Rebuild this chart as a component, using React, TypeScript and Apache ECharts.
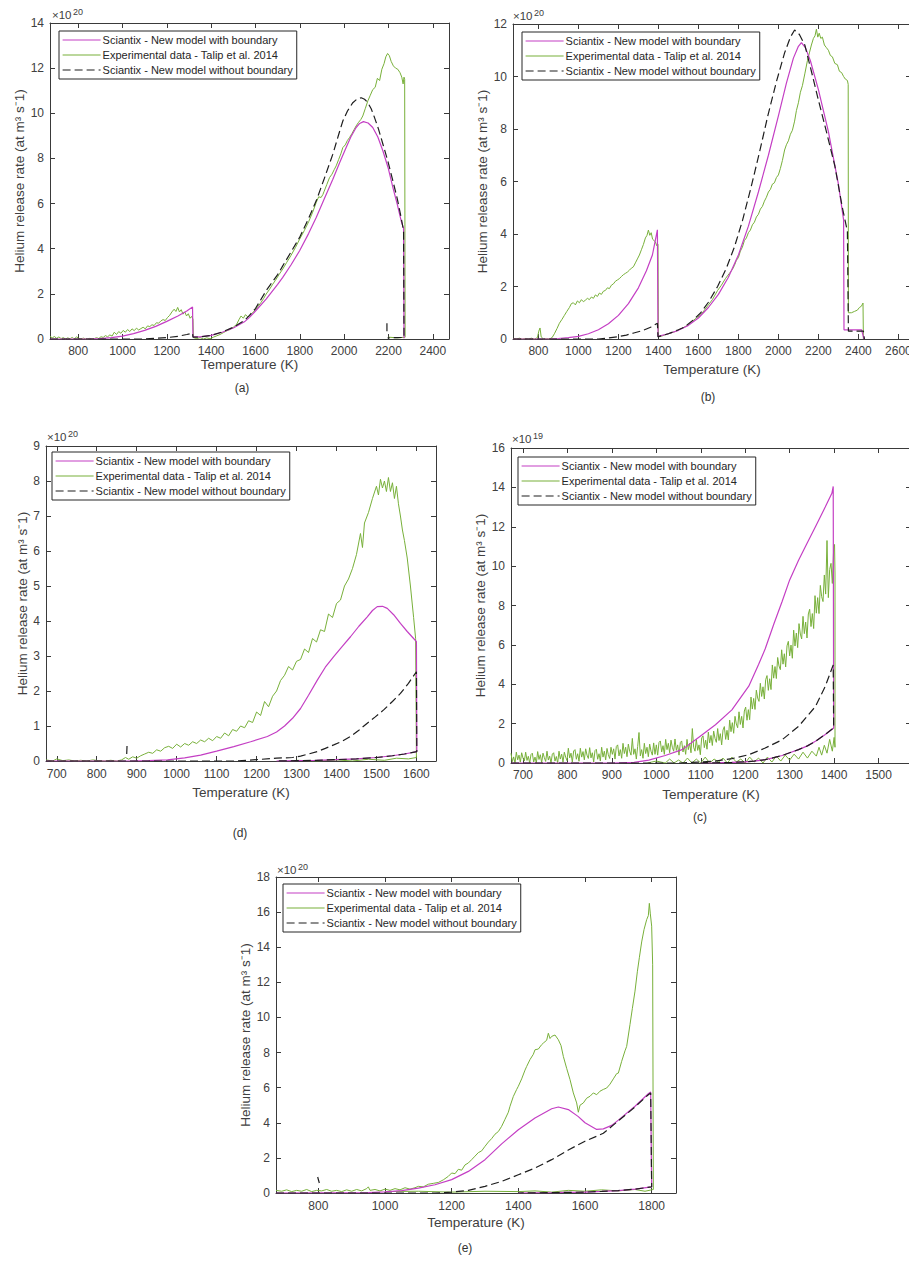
import React, { useEffect, useRef } from "react";
import * as echarts from "echarts";

type Pt = [number, number | string];

// ---------- shared texts ----------
const SERIES_NAMES = [
  "Sciantix - New model with boundary",
  "Experimental data - Talip et al. 2014",
  "Sciantix - New model without boundary",
];
const X_TITLE = "Temperature (K)";
const Y_TITLE = "Helium release rate (at m³ s⁻1)";

// ---------- panel (a) ----------
const A_X_TICKS = [800, 1000, 1200, 1400, 1600, 1800, 2000, 2200, 2400];
const A_WITH: Pt[] = [
  [673, 0], [850, 0], [900, 0.02], [950, 0.06], [1000, 0.13], [1050, 0.24], [1100, 0.38], [1150, 0.56],
  [1200, 0.78], [1250, 1.02], [1290, 1.24], [1316, 1.42], [1318, 0.1], [1350, 0.09], [1400, 0.16],
  [1450, 0.3], [1500, 0.49], [1550, 0.76], [1573, 0.96], [1600, 1.24], [1648, 1.77], [1700, 2.42],
  [1723, 2.73], [1760, 3.28], [1799, 3.91], [1840, 4.68], [1874, 5.38], [1910, 6.2], [1949, 7.08],
  [1980, 7.82], [2009, 8.48], [2030, 8.95], [2054, 9.37], [2070, 9.55], [2087, 9.63], [2108, 9.57],
  [2129, 9.37], [2152, 8.95], [2175, 8.33], [2198, 7.6], [2220, 6.71], [2240, 5.95], [2257, 5.24],
  [2268, 4.9], [2270, 0.03],
];
const A_WITHOUT: Pt[] = [
  [673, 0], [1100, 0], [1150, 0.03], [1200, 0.06], [1250, 0.12], [1290, 0.2], [1316, 0.26], [1318, 0.08],
  [1350, 0.09], [1400, 0.16], [1450, 0.31], [1500, 0.52], [1550, 0.82], [1573, 1.05], [1600, 1.35],
  [1648, 2.14], [1700, 2.85], [1723, 3.24], [1760, 3.85], [1799, 4.5], [1840, 5.35], [1874, 6.12],
  [1910, 7.1], [1949, 8.19], [1975, 9.05], [1994, 9.66], [2015, 10.1], [2039, 10.47], [2058, 10.63],
  [2077, 10.69], [2092, 10.62], [2107, 10.47], [2122, 10.2], [2137, 9.81], [2155, 9.3], [2175, 8.63],
  [2198, 7.85], [2220, 7.0], [2240, 6.2], [2257, 5.38], [2268, 4.79], [2270, 0.07], [2230, 0.06],
  [2196, 0.05], [2193, "-"], [2193, 0.34], [2193, 0.7],
];
const A_EXP: Pt[] = [
  [673, 0.12], [683, 0.05], [693, 0.11], [703, 0.03], [713, 0.09], [723, 0.02], [733, 0.06], [743, 0.0],
  [753, 0.05], [763, 0.01], [773, 0.07], [783, 0.0], [793, 0.1], [803, 0.02], [813, 0.0], [823, 0.04],
  [833, 0.01], [843, 0.0], [853, 0.03], [863, 0.0], [873, 0.02], [883, 0.06], [893, 0.02], [903, 0.1],
  [913, 0.07], [923, 0.15], [933, 0.1], [943, 0.18], [953, 0.13], [963, 0.3], [973, 0.2], [983, 0.33],
  [993, 0.25], [1003, 0.38], [1013, 0.3], [1023, 0.42], [1033, 0.33], [1043, 0.45], [1053, 0.37],
  [1063, 0.48], [1073, 0.4], [1083, 0.46], [1093, 0.52], [1103, 0.45], [1113, 0.58], [1123, 0.55],
  [1133, 0.63], [1143, 0.6], [1153, 0.72], [1163, 0.7], [1173, 0.8], [1183, 0.86], [1193, 0.82],
  [1203, 0.95], [1213, 1.05], [1223, 1.2], [1233, 1.32], [1241, 1.22], [1249, 1.4], [1257, 1.2],
  [1265, 1.3], [1273, 1.1], [1281, 1.2], [1289, 1.02], [1297, 1.12], [1305, 0.92], [1312, 1.0],
  [1318, 0.88], [1320, 0.06], [1335, 0.02], [1350, 0.06], [1365, 0.0], [1380, 0.05], [1395, 0.01],
  [1410, 0.08], [1425, 0.14], [1440, 0.2], [1455, 0.28], [1470, 0.36], [1485, 0.42], [1500, 0.52],
  [1515, 0.65], [1525, 0.85], [1535, 1.02], [1545, 0.92], [1555, 1.08], [1565, 0.98], [1573, 1.03],
  [1586, 1.15], [1600, 1.3], [1612, 1.45], [1625, 1.62], [1637, 1.8], [1648, 1.99], [1662, 2.18],
  [1676, 2.4], [1690, 2.6], [1706, 2.85], [1723, 3.1], [1740, 3.38], [1760, 3.7], [1780, 4.05],
  [1799, 4.42], [1820, 4.8], [1840, 5.2], [1858, 5.62], [1874, 6.05], [1885, 6.3], [1896, 6.27],
  [1904, 6.4], [1910, 6.55], [1922, 6.85], [1934, 7.15], [1945, 7.3], [1955, 7.5], [1964, 7.67],
  [1975, 7.95], [1985, 8.2], [1994, 8.48], [2005, 8.6], [2015, 8.8], [2024, 8.92], [2035, 9.1],
  [2045, 9.28], [2054, 9.44], [2065, 9.6], [2075, 9.72], [2084, 9.88], [2095, 10.2], [2107, 10.55],
  [2118, 10.8], [2129, 11.05], [2140, 11.15], [2150, 11.55], [2160, 11.45], [2170, 11.95], [2180, 12.2],
  [2188, 12.5], [2196, 12.65], [2204, 12.55], [2212, 12.3], [2222, 12.1], [2232, 12.0], [2242, 11.95],
  [2252, 11.8], [2260, 11.6], [2266, 11.3], [2270, 11.6], [2273, 11.5], [2275, 0.08], [2240, 0.05],
  [2200, 0.08],
];

// ---------- panel (b) ----------
const B_X_TICKS = [800, 1000, 1200, 1400, 1600, 1800, 2000, 2200, 2400, 2600];
const B_WITH: Pt[] = [
  [673, 0], [850, 0], [900, 0.02], [950, 0.05], [1000, 0.1], [1050, 0.2], [1100, 0.35], [1150, 0.58],
  [1200, 0.9], [1250, 1.35], [1300, 1.95], [1340, 2.6], [1370, 3.2], [1395, 4.16], [1398, 0.1],
  [1450, 0.2], [1500, 0.33], [1550, 0.52], [1600, 0.8], [1650, 1.2], [1700, 1.7], [1750, 2.35],
  [1800, 3.2], [1850, 4.3], [1900, 5.6], [1950, 7.0], [2000, 8.5], [2040, 9.75], [2075, 10.7],
  [2100, 11.15], [2115, 11.29], [2135, 11.1], [2160, 10.6], [2200, 9.5], [2250, 7.9], [2300, 5.9],
  [2326, 4.54], [2328, 0.35], [2416, 0.35], [2428, 0.0],
];
const B_WITHOUT: Pt[] = [
  [673, 0], [1100, 0], [1150, 0.04], [1194, 0.08], [1240, 0.15], [1277, 0.23], [1320, 0.32], [1361, 0.45],
  [1395, 0.6], [1398, 0.08], [1450, 0.2], [1500, 0.35], [1529, 0.45], [1570, 0.7], [1612, 1.0],
  [1650, 1.4], [1696, 2.0], [1740, 2.7], [1780, 3.5], [1820, 4.5], [1864, 5.8], [1905, 7.1], [1947, 8.5],
  [1990, 9.8], [2031, 10.9], [2060, 11.5], [2081, 11.77], [2105, 11.6], [2132, 11.2], [2165, 10.2],
  [2200, 9.1], [2240, 7.9], [2282, 6.6], [2320, 5.0], [2345, 4.1], [2350, 0.3], [2425, 0.3], [2430, 0.0],
];
const B_EXP: Pt[] = [
  [673, 0.02], [690, 0.0], [705, 0.03], [720, 0.0], [735, 0.02], [750, 0.0], [765, 0.03], [780, 0.0],
  [795, 0.05], [802, 0.3], [808, 0.42], [814, 0.08], [825, 0.0], [840, 0.02], [855, 0.0], [868, 0.05],
  [880, 0.2], [893, 0.4], [905, 0.6], [918, 0.75], [930, 0.9], [942, 1.05], [955, 1.2], [965, 1.35],
  [975, 1.38], [985, 1.3], [995, 1.45], [1005, 1.38], [1015, 1.5], [1025, 1.42], [1035, 1.48],
  [1045, 1.55], [1055, 1.5], [1065, 1.6], [1075, 1.55], [1085, 1.68], [1095, 1.62], [1105, 1.75],
  [1115, 1.7], [1125, 1.82], [1135, 1.85], [1145, 1.95], [1155, 1.92], [1165, 2.05], [1175, 2.1],
  [1185, 2.2], [1195, 2.25], [1205, 2.3], [1215, 2.38], [1225, 2.45], [1235, 2.5], [1245, 2.55],
  [1255, 2.62], [1265, 2.7], [1275, 2.75], [1285, 2.9], [1295, 3.05], [1305, 3.2], [1315, 3.4],
  [1325, 3.6], [1335, 3.85], [1343, 3.95], [1350, 4.15], [1357, 3.95], [1364, 4.05], [1371, 3.8],
  [1378, 3.75], [1385, 3.7], [1392, 3.55], [1398, 3.6], [1400, 0.1], [1420, 0.12], [1440, 0.18],
  [1462, 0.23], [1490, 0.3], [1510, 0.38], [1529, 0.45], [1550, 0.55], [1570, 0.68], [1590, 0.8],
  [1612, 0.92], [1630, 1.1], [1650, 1.3], [1670, 1.5], [1696, 1.85], [1715, 2.05], [1735, 2.3],
  [1755, 2.5], [1770, 2.65], [1780, 2.8], [1790, 3.0], [1800, 3.1], [1810, 3.35], [1820, 3.5],
  [1830, 3.75], [1840, 3.85], [1850, 4.05], [1860, 4.15], [1870, 4.35], [1880, 4.45], [1890, 4.65],
  [1900, 4.75], [1910, 4.95], [1920, 5.05], [1930, 5.25], [1940, 5.4], [1950, 5.6], [1960, 5.7],
  [1970, 5.9], [1980, 5.95], [1990, 6.15], [2000, 6.25], [2010, 6.5], [2020, 6.8], [2031, 7.2],
  [2040, 7.4], [2050, 7.55], [2060, 7.8], [2070, 7.95], [2081, 8.3], [2090, 8.7], [2100, 9.0],
  [2110, 9.4], [2120, 9.65], [2132, 10.1], [2145, 10.6], [2155, 10.9], [2165, 11.2], [2175, 11.45],
  [2183, 11.55], [2190, 11.8], [2197, 11.5], [2204, 11.65], [2212, 11.45], [2220, 11.5], [2230, 11.2],
  [2240, 11.1], [2250, 11.0], [2260, 10.8], [2270, 10.75], [2282, 10.5], [2295, 10.45], [2305, 10.2],
  [2316, 10.15], [2326, 10.0], [2335, 9.9], [2345, 9.85], [2349, 9.7], [2350, 1.0], [2365, 1.0],
  [2380, 1.05], [2395, 1.1], [2405, 1.2], [2415, 1.25], [2423, 1.37], [2425, 0.0],
];

// ---------- panel (d) ----------
const D_X_TICKS = [700, 800, 900, 1000, 1100, 1200, 1300, 1400, 1500, 1600];
const D_WITH: Pt[] = [
  [673, 0], [880, 0], [930, 0.01], [977, 0.03], [1020, 0.09], [1060, 0.17], [1100, 0.28], [1143, 0.41],
  [1185, 0.55], [1227, 0.7], [1250, 0.83], [1270, 1.0], [1290, 1.22], [1310, 1.5], [1330, 1.88],
  [1352, 2.31], [1372, 2.68], [1393, 2.98], [1415, 3.28], [1435, 3.55], [1456, 3.85], [1477, 4.12],
  [1490, 4.3], [1502, 4.41], [1515, 4.42], [1527, 4.36], [1543, 4.18], [1560, 3.93], [1577, 3.7],
  [1593, 3.5], [1600, 3.41], [1601, 0.27], [1570, 0.2], [1540, 0.15], [1500, 0.1], [1450, 0.06],
  [1400, 0.04], [1350, 0.02], [1300, 0.01], [1250, 0.0],
];
const D_WITHOUT: Pt[] = [
  [673, 0], [1150, 0], [1200, 0.04], [1250, 0.08], [1290, 0.1], [1310, 0.14], [1330, 0.2], [1352, 0.27],
  [1372, 0.36], [1393, 0.46], [1415, 0.57], [1435, 0.7], [1456, 0.88], [1477, 1.08], [1497, 1.26],
  [1518, 1.46], [1540, 1.7], [1560, 1.93], [1580, 2.22], [1600, 2.55], [1601, 0.27], [1570, 0.2],
  [1540, 0.15], [1500, 0.1], [1450, 0.06], [1400, 0.04], [1350, 0.02], [1300, 0.01], [1250, 0.0],
  [875, "-"], [875, 0.2], [876, 0.5],
];
const D_EXP: Pt[] = [
  [673, 0.03], [690, 0.0], [700, 0.06], [715, 0.01], [730, 0.03], [745, 0.0], [760, 0.02], [775, 0.0],
  [790, 0.03], [805, 0.01], [820, 0.0], [835, 0.02], [850, 0.0], [862, 0.03], [872, 0.1], [880, 0.05],
  [890, 0.12], [900, 0.08], [910, 0.15], [920, 0.2], [930, 0.25], [940, 0.22], [950, 0.32], [960, 0.28],
  [970, 0.38], [980, 0.42], [990, 0.36], [1000, 0.48], [1010, 0.4], [1020, 0.5], [1030, 0.45],
  [1040, 0.55], [1050, 0.5], [1060, 0.6], [1070, 0.55], [1080, 0.65], [1090, 0.58], [1100, 0.7],
  [1110, 0.65], [1120, 0.8], [1130, 0.72], [1140, 0.9], [1150, 0.85], [1160, 1.0], [1170, 0.95],
  [1180, 1.15], [1190, 1.1], [1200, 1.4], [1210, 1.3], [1220, 1.7], [1230, 1.55], [1240, 1.85],
  [1250, 2.0], [1260, 2.3], [1270, 2.45], [1280, 2.7], [1290, 2.6], [1300, 2.85], [1310, 2.9],
  [1320, 3.2], [1330, 3.1], [1340, 3.5], [1350, 3.4], [1360, 3.75], [1370, 3.7], [1380, 4.2],
  [1390, 4.1], [1400, 4.5], [1410, 4.6], [1420, 5.0], [1430, 5.2], [1440, 5.5], [1450, 5.9],
  [1460, 6.5], [1465, 6.1], [1470, 6.8], [1480, 7.1], [1490, 7.5], [1500, 7.85], [1505, 7.6],
  [1510, 8.05], [1515, 7.8], [1520, 8.0], [1525, 7.7], [1530, 8.1], [1535, 7.7], [1540, 7.95],
  [1545, 7.5], [1550, 7.85], [1555, 7.35], [1560, 7.0], [1565, 6.6], [1570, 6.3], [1577, 5.8],
  [1585, 5.0], [1593, 4.1], [1598, 3.5], [1600, 0.1], [1580, 0.06], [1550, 0.08], [1520, 0.02],
  [1480, 0.05], [1440, 0.0], [1400, 0.03], [1350, 0.0], [1300, 0.02],
];

// ---------- panel (c) ----------
const C_X_TICKS = [700, 800, 900, 1000, 1100, 1200, 1300, 1400, 1500];
const C_WITH: Pt[] = [
  [673, 0], [900, 0], [950, 0.03], [983, 0.15], [1020, 0.38], [1058, 0.68], [1095, 1.3], [1133, 1.94],
  [1170, 2.7], [1208, 3.9], [1230, 5.0], [1245, 5.8], [1265, 7.1], [1283, 8.2], [1300, 9.3],
  [1320, 10.3], [1340, 11.2], [1358, 12.0], [1380, 13.0], [1395, 13.7], [1398, 14.05], [1399, 1.78],
  [1380, 1.45], [1358, 1.1], [1340, 0.87], [1320, 0.68], [1300, 0.52], [1283, 0.38], [1260, 0.25],
  [1245, 0.17], [1220, 0.1], [1200, 0.06], [1170, 0.03], [1133, 0.01], [1100, 0],
];
const C_WITHOUT: Pt[] = [
  [673, 0], [1050, 0], [1100, 0.05], [1133, 0.1], [1170, 0.22], [1208, 0.42], [1245, 0.76], [1283, 1.18],
  [1320, 1.86], [1358, 2.87], [1380, 3.89], [1398, 4.98], [1399, 1.78], [1380, 1.45], [1358, 1.1],
  [1340, 0.87], [1320, 0.68], [1300, 0.52], [1283, 0.38], [1260, 0.25], [1245, 0.17], [1220, 0.1],
  [1200, 0.06], [1170, 0.03], [1133, 0.01], [1100, 0],
];
const C_EXP: Pt[] = [
  [673, 0.49], [676, 0.07], [679, 0.31], [682, 0.0], [685, 0.55], [688, 0.16], [691, 0.4], [694, 0.04],
  [697, 0.52], [700, 0.25], [703, 0.1], [706, 0.55], [709, 0.13], [712, 0.34], [715, 0.0], [718, 0.43],
  [721, 0.5], [724, 0.05], [727, 0.3], [730, 0.0], [733, 0.58], [736, 0.18], [739, 0.42], [742, 0.02],
  [745, 0.5], [748, 0.27], [751, 0.08], [754, 0.6], [757, 0.15], [760, 0.35], [763, 0.0], [766, 0.45],
  [769, 0.52], [772, 0.1], [775, 0.33], [778, 0.0], [781, 0.6], [784, 0.2], [787, 0.45], [790, 0.05],
  [793, 0.55], [796, 0.3], [799, 0.12], [802, 0.75], [805, 0.26], [808, 0.5], [811, 0.05], [814, 0.61],
  [817, 0.68], [820, 0.19], [823, 0.47], [826, 0.09], [829, 0.75], [832, 0.3], [835, 0.58], [838, 0.16],
  [841, 0.72], [844, 0.4], [847, 0.23], [850, 0.78], [853, 0.26], [856, 0.52], [859, 0.05], [862, 0.63],
  [865, 0.7], [868, 0.19], [871, 0.47], [874, 0.1], [877, 0.8], [880, 0.3], [883, 0.6], [886, 0.16],
  [889, 0.74], [892, 0.42], [895, 0.23], [898, 0.8], [901, 0.44], [904, 0.72], [907, 0.2], [910, 0.84],
  [913, 0.92], [916, 0.36], [919, 0.68], [922, 0.24], [925, 1.0], [928, 0.48], [931, 0.8], [934, 0.32],
  [937, 0.96], [940, 0.6], [943, 0.4], [946, 1.25], [949, 0.44], [952, 0.72], [955, 0.2], [958, 0.84],
  [961, 1.55], [964, 0.36], [967, 0.68], [970, 0.24], [973, 1.0], [976, 0.48], [979, 0.8], [982, 0.32],
  [985, 0.96], [988, 0.6], [991, 0.4], [994, 1.02], [997, 0.44], [1000, 0.92], [1003, 0.4], [1006, 1.04],
  [1009, 1.12], [1012, 0.56], [1015, 0.88], [1018, 0.44], [1021, 1.2], [1024, 0.68], [1027, 1.0],
  [1030, 0.52], [1033, 1.16], [1036, 0.8], [1039, 0.6], [1042, 1.22], [1045, 0.64], [1048, 0.92],
  [1051, 0.4], [1054, 1.04], [1057, 1.12], [1060, 0.56], [1063, 0.88], [1066, 0.44], [1069, 1.2],
  [1072, 0.68], [1075, 1.0], [1078, 0.52], [1081, 1.75], [1084, 0.8], [1087, 0.6], [1090, 1.2],
  [1093, 0.64], [1096, 0.92], [1099, 0.42], [1102, 1.27], [1105, 1.38], [1108, 0.78], [1111, 1.16],
  [1114, 0.7], [1117, 1.57], [1120, 1.02], [1123, 1.4], [1126, 0.89], [1129, 1.62], [1132, 1.25],
  [1135, 1.05], [1138, 1.75], [1141, 1.14], [1144, 1.49], [1147, 0.92], [1150, 1.67], [1153, 1.85],
  [1156, 1.2], [1159, 1.66], [1162, 1.17], [1165, 2.18], [1168, 1.59], [1171, 2.05], [1174, 1.51],
  [1177, 2.37], [1180, 1.98], [1183, 1.79], [1186, 2.6], [1189, 1.96], [1192, 2.37], [1195, 1.78],
  [1198, 2.64], [1201, 2.84], [1204, 2.17], [1207, 2.71], [1210, 2.2], [1213, 3.35], [1216, 2.74],
  [1219, 3.28], [1222, 2.72], [1225, 3.7], [1228, 3.3], [1231, 3.13], [1234, 4.05], [1237, 3.38],
  [1240, 3.87], [1243, 3.25], [1246, 4.23], [1249, 4.44], [1252, 3.69], [1255, 4.28], [1258, 3.73],
  [1261, 4.98], [1264, 4.31], [1267, 4.9], [1270, 4.29], [1273, 5.36], [1276, 4.93], [1279, 4.74],
  [1282, 5.75], [1285, 5.02], [1288, 5.55], [1291, 4.88], [1294, 5.95], [1297, 6.18], [1300, 5.44],
  [1303, 5.99], [1306, 5.32], [1309, 6.75], [1312, 5.94], [1315, 6.6], [1318, 5.86], [1321, 7.08],
  [1324, 6.55], [1327, 6.3], [1330, 7.45], [1333, 6.57], [1336, 7.16], [1339, 6.35], [1342, 7.57],
  [1345, 7.81], [1348, 6.93], [1351, 7.59], [1354, 6.83], [1357, 8.5], [1360, 7.61], [1363, 8.4],
  [1366, 7.59], [1369, 9.02], [1372, 8.45], [1375, 8.2], [1378, 9.55], [1381, 8.58], [1384, 11.3],
  [1387, 8.4], [1390, 9.83], [1393, 10.14], [1396, 9.12], [1399, 10.9], [1401, 11.1], [1402, 9.6],
  [1402, 0.8], [1400, 1.3], [1396, 0.6], [1390, 1.2], [1384, 0.5], [1378, 0.9], [1372, 0.4],
  [1366, 0.8], [1360, 0.35], [1350, 0.6], [1340, 0.25], [1330, 0.55], [1320, 0.2], [1310, 0.45],
  [1300, 0.15], [1290, 0.4], [1280, 0.1], [1270, 0.35], [1260, 0.05], [1250, 0.3], [1240, 0.0],
  [1230, 0.25], [1220, 0.05], [1210, 0.3], [1200, 0.0], [1190, 0.2], [1180, 0.05], [1170, 0.3],
  [1160, 0.0], [1150, 0.25], [1140, 0.05], [1130, 0.2], [1120, 0.0], [1110, 0.3], [1100, 0.0],
  [1090, 0.2], [1080, 0.0], [1070, 0.25], [1060, 0.0], [1050, 0.15], [1040, 0.0], [1030, 0.2],
  [1020, 0.0], [1000, 0.1], [980, 0.0],
];

// ---------- panel (e) ----------
const E_X_TICKS = [800, 1000, 1200, 1400, 1600, 1800];
const E_WITH: Pt[] = [
  [673, 0], [950, 0.02], [1000, 0.06], [1050, 0.14], [1100, 0.28], [1150, 0.47], [1200, 0.76],
  [1250, 1.23], [1300, 1.9], [1350, 2.8], [1400, 3.6], [1450, 4.27], [1500, 4.8], [1520, 4.9],
  [1550, 4.75], [1580, 4.35], [1600, 4.0], [1635, 3.62], [1655, 3.65], [1680, 3.85], [1700, 4.15],
  [1750, 4.94], [1790, 5.65], [1797, 5.75], [1800, 0.35], [1750, 0.22], [1700, 0.14], [1650, 0.09],
  [1600, 0.05], [1500, 0.02], [1400, 0.0],
];
const E_WITHOUT: Pt[] = [
  [673, 0], [1150, 0], [1200, 0.05], [1250, 0.15], [1300, 0.38], [1350, 0.66], [1400, 1.04],
  [1450, 1.42], [1500, 1.9], [1550, 2.45], [1600, 2.95], [1655, 3.4], [1690, 3.95], [1750, 4.9],
  [1790, 5.6], [1797, 5.7], [1800, 0.35], [1750, 0.22], [1700, 0.14], [1650, 0.09], [1600, 0.05],
  [1500, 0.02], [1400, 0.0], [800, "-"], [798, 0.91], [803, 0.57],
];
const E_EXP: Pt[] = [
  [673, 0.15], [690, 0.1], [705, 0.18], [720, 0.08], [735, 0.15], [750, 0.1], [765, 0.2], [780, 0.08],
  [795, 0.15], [810, 0.12], [825, 0.2], [840, 0.1], [855, 0.15], [870, 0.08], [885, 0.18], [900, 0.1],
  [915, 0.2], [930, 0.12], [945, 0.25], [950, 0.35], [955, 0.15], [970, 0.2], [985, 0.12], [1000, 0.22],
  [1015, 0.15], [1030, 0.25], [1045, 0.18], [1060, 0.3], [1075, 0.22], [1090, 0.3], [1100, 0.38],
  [1115, 0.35], [1130, 0.5], [1145, 0.55], [1160, 0.6], [1175, 0.75], [1190, 0.95], [1200, 1.14],
  [1210, 1.1], [1220, 1.35], [1230, 1.3], [1240, 1.6], [1250, 1.71], [1260, 1.9], [1270, 2.1],
  [1280, 2.3], [1290, 2.4], [1300, 2.66], [1310, 2.9], [1320, 3.1], [1330, 3.35], [1340, 3.5],
  [1350, 3.8], [1360, 4.2], [1370, 4.6], [1375, 4.94], [1385, 5.5], [1395, 5.9], [1400, 6.08],
  [1410, 6.5], [1420, 7.0], [1425, 7.21], [1435, 7.6], [1445, 7.9], [1450, 8.16], [1460, 8.2],
  [1470, 8.45], [1475, 8.54], [1485, 8.7], [1490, 9.1], [1495, 8.8], [1500, 8.92], [1510, 9.0],
  [1520, 8.73], [1528, 8.4], [1535, 7.78], [1545, 7.1], [1555, 6.46], [1565, 5.7], [1575, 5.13],
  [1580, 4.6], [1585, 5.0], [1595, 5.13], [1605, 5.4], [1615, 5.51], [1625, 5.7], [1635, 5.6],
  [1645, 5.8], [1655, 5.9], [1665, 5.98], [1675, 6.2], [1685, 6.5], [1695, 6.8], [1700, 6.83],
  [1710, 7.5], [1720, 8.1], [1725, 8.35], [1735, 9.6], [1742, 10.5], [1750, 11.5], [1757, 12.6],
  [1763, 13.4], [1770, 14.3], [1777, 15.0], [1785, 15.57], [1790, 15.8], [1793, 16.5], [1796, 15.9],
  [1800, 15.2], [1803, 13.0], [1805, 0.2], [1780, 0.1], [1750, 0.2], [1700, 0.12], [1650, 0.18],
  [1600, 0.1], [1550, 0.15], [1500, 0.05], [1450, 0.12], [1400, 0.08], [1300, 0.1], [1200, 0.05],
  [1100, 0.1], [1000, 0.08],
];

// ---------- styling / layout (not data) ----------
const FONT = '"Liberation Sans", Arial, Helvetica, sans-serif';
const AXIS_COLOR = "#3a3a3a";
const TEXT_COLOR = "#404040";
const COLORS = ["#c43fc4", "#78b03a", "#1e1e1e"];

const PANELS = [
  {
    withB: A_WITH, exp: A_EXP, without: A_WITHOUT, xMin: 673, xMax: 2473, xTicks: A_X_TICKS, yMax: 14, yStep: 2,
    power: "20", caption: "(a)", expWidth: 1,
    box: { left: 50, top: 23, width: 399, height: 316 }, labelMargin: 6, xNameGap: 15, yNameGap: 22,
    legend: [59, 31], mult: [52, 21], cap: [242, 388],
  },
  {
    withB: B_WITH, exp: B_EXP, without: B_WITHOUT, xMin: 673, xMax: 2663, xTicks: B_X_TICKS, yMax: 12, yStep: 2,
    power: "20", caption: "(b)", expWidth: 1,
    box: { left: 513, top: 24, width: 398, height: 315 }, labelMargin: 6, xNameGap: 23, yNameGap: 22,
    legend: [522, 32], mult: [513, 22], cap: [708, 397],
  },
  {
    withB: D_WITH, exp: D_EXP, without: D_WITHOUT, xMin: 673, xMax: 1649, xTicks: D_X_TICKS, yMax: 9, yStep: 1,
    power: "20", caption: "(d)", expWidth: 1,
    box: { left: 46, top: 446, width: 390, height: 315 }, labelMargin: 7, xNameGap: 24, yNameGap: 15,
    legend: [52, 452], mult: [47, 443], cap: [240, 833],
  },
  {
    withB: C_WITH, exp: C_EXP, without: C_WITHOUT, xMin: 673, xMax: 1573, xTicks: C_X_TICKS, yMax: 16, yStep: 2,
    power: "19", caption: "(c)", expWidth: 1,
    box: { left: 511, top: 448, width: 400, height: 315 }, labelMargin: 6, xNameGap: 24, yNameGap: 22,
    legend: [518, 457], mult: [512, 445], cap: [700, 817],
  },
  {
    withB: E_WITH, exp: E_EXP, without: E_WITHOUT, xMin: 673, xMax: 1873, xTicks: E_X_TICKS, yMax: 18, yStep: 2,
    power: "20", caption: "(e)", expWidth: 1,
    box: { left: 276, top: 877, width: 400, height: 316 }, labelMargin: 7, xNameGap: 22, yNameGap: 23,
    legend: [283, 884], mult: [277, 876], cap: [465, 1248],
  },
];

const plain = (v: number) => String(v);

function buildOption() {
  const grid: any[] = [];
  const xAxis: any[] = [];
  const yAxis: any[] = [];
  const series: any[] = [];
  const graphic: any[] = [];
  const legend: any[] = [];

  PANELS.forEach((p, i) => {
    grid.push({ ...p.box, outerBoundsMode: "none", containLabel: false });
    const tickStyle = { color: AXIS_COLOR, width: 1 };
    const baseX = {
      type: "value", gridIndex: i, min: p.xMin, max: p.xMax,
      axisLine: { show: true, onZero: false, lineStyle: { color: AXIS_COLOR, width: 1 } },
      splitLine: { show: false },
    };
    xAxis.push({
      ...baseX, position: "bottom",
      axisTick: { show: true, inside: true, length: 5, customValues: p.xTicks, lineStyle: tickStyle },
      axisLabel: {
        show: true, customValues: p.xTicks, margin: p.labelMargin, fontSize: 12, color: TEXT_COLOR,
        fontFamily: FONT, hideOverlap: false, formatter: plain,
      },
      name: X_TITLE, nameLocation: "middle", nameGap: p.xNameGap,
      nameTextStyle: { fontSize: 13.5, color: TEXT_COLOR, fontFamily: FONT },
    });
    xAxis.push({
      ...baseX, position: "top",
      axisTick: { show: true, inside: true, length: 5, customValues: p.xTicks, lineStyle: tickStyle },
      axisLabel: { show: false },
    });
    const baseY = {
      type: "value", gridIndex: i, min: 0, max: p.yMax, interval: p.yStep,
      axisLine: { show: true, onZero: false, lineStyle: { color: AXIS_COLOR, width: 1 } },
      axisTick: { show: true, inside: true, length: 5, lineStyle: tickStyle },
      splitLine: { show: false },
    };
    yAxis.push({
      ...baseY, position: "left",
      axisLabel: { show: true, margin: 6, fontSize: 12, color: TEXT_COLOR, fontFamily: FONT, formatter: plain },
      name: Y_TITLE, nameLocation: "middle", nameGap: p.yNameGap,
      nameTextStyle: { fontSize: 13.5, color: TEXT_COLOR, fontFamily: FONT },
    });
    yAxis.push({ ...baseY, position: "right", axisLabel: { show: false } });

    const datasets = [p.withB, p.exp, p.without];
    datasets.forEach((d, k) => {
      series.push({
        type: "line", name: SERIES_NAMES[k], xAxisIndex: 2 * i, yAxisIndex: 2 * i, data: d,
        showSymbol: false, symbol: "none", clip: true, connectNulls: false,
        z: 2 + (k === 2 ? 2 : k === 0 ? 1 : 0),
        lineStyle: { color: COLORS[k], width: k === 1 ? p.expWidth : 1.2, type: k === 2 ? [8, 4] : "solid" },
        itemStyle: { color: COLORS[k] },
        emphasis: { disabled: true },
      });
    });

    // boxed legend, one per panel
    legend.push({
      show: true, left: p.legend[0], top: p.legend[1], orient: "vertical",
      data: SERIES_NAMES, selectedMode: false, z: 10,
      itemWidth: 38, itemHeight: 12, itemGap: 3, padding: [3, 4, 3, 3],
      backgroundColor: "#ffffff", borderColor: "#262626", borderWidth: 1, borderRadius: 0,
      itemStyle: { opacity: 0, borderWidth: 0 },
      lineStyle: { width: 1.2 },
      textStyle: { fontSize: 11, lineHeight: 12, color: "#262626", fontFamily: FONT, padding: [0, 0, 0, -3] },
    });

    // exponent label
    graphic.push({
      type: "text", x: p.mult[0], y: p.mult[1], z: 100, silent: true,
      style: { text: "×10", fontSize: 11.5, fontFamily: FONT, fill: TEXT_COLOR, textAlign: "left", textVerticalAlign: "bottom", align: "left", verticalAlign: "bottom" },
    });
    graphic.push({
      type: "text", x: p.mult[0] + 21, y: p.mult[1] - 5, z: 100, silent: true,
      style: { text: p.power, fontSize: 9, fontFamily: FONT, fill: TEXT_COLOR, textAlign: "left", textVerticalAlign: "bottom", align: "left", verticalAlign: "bottom" },
    });
    // caption
    graphic.push({
      type: "text", x: p.cap[0], y: p.cap[1], z: 100, silent: true,
      style: { text: p.caption, fontSize: 12, fontFamily: FONT, fill: "#333333", textAlign: "center", textVerticalAlign: "middle", align: "center", verticalAlign: "middle" },
    });
  });

  return {
    animation: false,
    backgroundColor: "#ffffff",
    textStyle: { fontFamily: FONT },
    grid, xAxis, yAxis, series, graphic, legend,
  };
}

export default function App() {
  const ref = useRef<HTMLDivElement>(null);
  useEffect(() => {
    document.body.style.margin = "0";
    if (!ref.current) return;
    const chart = echarts.init(ref.current, undefined, { renderer: "svg" });
    chart.setOption(buildOption() as any);
    return () => chart.dispose();
  }, []);
  return (
    <div
      ref={ref}
      style={{ position: "absolute", left: 0, top: 0, width: 909, height: 1261, background: "#fff" }}
    />
  );
}
